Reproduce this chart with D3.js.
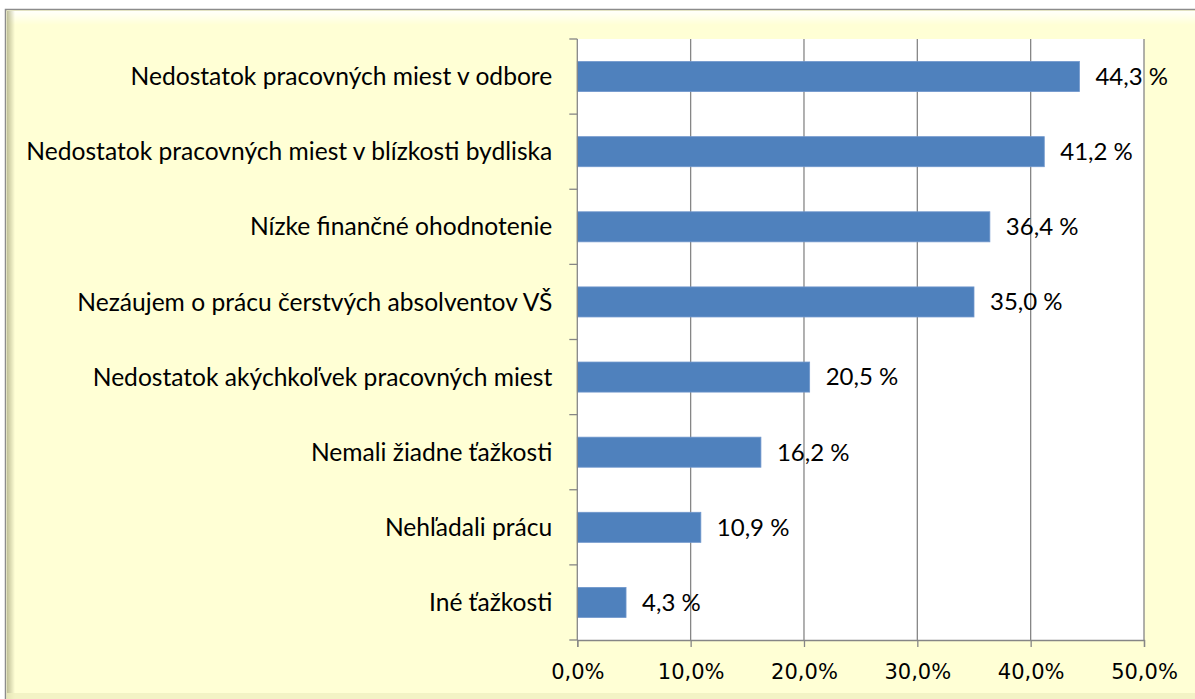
<!DOCTYPE html>
<html>
<head>
<meta charset="utf-8">
<script src="https://cdn.jsdelivr.net/npm/d3@7"></script>
<style>
  body { margin: 0; background: #fff; }
  svg { display: block; }
</style>
</head>
<body>
<svg id="chart" width="1195" height="699"></svg>
<script>
// categories top to bottom, values in percent
const categories = [
  "Nedostatok pracovných miest v odbore",
  "Nedostatok pracovných miest v blízkosti bydliska",
  "Nízke finančné ohodnotenie",
  "Nezáujem o prácu čerstvých absolventov VŠ",
  "Nedostatok akýchkoľvek pracovných miest",
  "Nemali žiadne ťažkosti",
  "Nehľadali prácu",
  "Iné ťažkosti"
];
const values = [44.3, 41.2, 36.4, 35.0, 20.5, 16.2, 10.9, 4.3];
const tickValues = [0, 10, 20, 30, 40, 50];

const svg = d3.select("#chart");
const plotLeft = 577.3, plotRight = 1144, plotTop = 39, plotBottom = 640;

// frame with bevel look
const defs = svg.append("defs");
const gTop = defs.append("linearGradient").attr("id", "topHi").attr("x1", 0).attr("y1", 0).attr("x2", 0).attr("y2", 1);
gTop.append("stop").attr("offset", 0).attr("stop-color", "#ffffff").attr("stop-opacity", 0.9);
gTop.append("stop").attr("offset", 1).attr("stop-color", "#ffffff").attr("stop-opacity", 0);
const gLeft = defs.append("linearGradient").attr("id", "leftSh").attr("x1", 0).attr("y1", 0).attr("x2", 1).attr("y2", 0);
gLeft.append("stop").attr("offset", 0).attr("stop-color", "#b8b890").attr("stop-opacity", 0.9);
gLeft.append("stop").attr("offset", 1).attr("stop-color", "#b8b890").attr("stop-opacity", 0);

svg.append("rect")
  .attr("x", 5.5).attr("y", 9.5).attr("width", 1210).attr("height", 700)
  .attr("fill", "#ffffd5").attr("stroke", "#8c8c8c").attr("stroke-width", 1.5);
svg.append("rect").attr("x", 7).attr("y", 11).attr("width", 1200).attr("height", 14).attr("fill", "url(#topHi)");
svg.append("rect").attr("x", 7).attr("y", 11).attr("width", 8).attr("height", 690).attr("fill", "url(#leftSh)");
svg.append("rect").attr("x", 7).attr("y", 693).attr("width", 1200).attr("height", 6).attr("fill", "#f0f0c0").attr("opacity", 0.8);

const x = d3.scaleLinear().domain([0, 50]).range([plotLeft, plotRight]);
const y = d3.scaleBand().domain(categories).range([plotTop, plotBottom]).paddingInner(0.6).paddingOuter(0.3);

// plot area
svg.append("rect")
  .attr("x", plotLeft).attr("y", plotTop).attr("width", plotRight - plotLeft).attr("height", plotBottom - plotTop)
  .attr("fill", "#ffffff");

// gridlines
svg.append("g")
  .selectAll("line")
  .data(tickValues.slice(1))
  .enter()
  .append("line")
  .attr("x1", d => x(d)).attr("x2", d => x(d))
  .attr("y1", plotTop).attr("y2", plotBottom)
  .attr("stroke", "#868686").attr("stroke-width", 1.3);

// bars
svg.append("g")
  .selectAll("rect")
  .data(values)
  .enter()
  .append("rect")
  .attr("x", plotLeft)
  .attr("y", (d, i) => y(categories[i]))
  .attr("width", d => x(d) - plotLeft)
  .attr("height", y.bandwidth())
  .attr("fill", "#4f81bd")
  .attr("stroke", "#6f96cc").attr("stroke-width", 0.8);

// value labels
svg.append("g")
  .selectAll("text")
  .data(values)
  .enter()
  .append("text")
  .attr("x", d => x(d) + 16)
  .attr("y", (d, i) => y(categories[i]) + y.bandwidth() / 2)
  .attr("dy", "0.35em")
  .style("font-family", "Lato, 'Open Sans', sans-serif")
  .style("font-size", "24px")
  .attr("fill", "#000")
  .text(d => d3.format(".1f")(d).replace(".", ",") + " %");

// y axis with ticks between categories
const step = (plotBottom - plotTop) / categories.length;
const yAxis = svg.append("g");
yAxis.append("line")
  .attr("x1", plotLeft).attr("x2", plotLeft).attr("y1", plotTop).attr("y2", plotBottom)
  .attr("stroke", "#868686").attr("stroke-width", 1.3);
yAxis.selectAll("line.tick")
  .data(d3.range(categories.length + 1))
  .enter()
  .append("line")
  .attr("class", "tick")
  .attr("x1", plotLeft - 8).attr("x2", plotLeft)
  .attr("y1", i => plotTop + i * step).attr("y2", i => plotTop + i * step)
  .attr("stroke", "#868686").attr("stroke-width", 1.3);
yAxis.selectAll("text")
  .data(categories)
  .enter()
  .append("text")
  .attr("x", plotLeft - 25)
  .attr("y", d => y(d) + y.bandwidth() / 2)
  .attr("dy", "0.35em")
  .attr("text-anchor", "end")
  .style("font-family", "Lato, 'Open Sans', sans-serif")
  .style("font-size", "24.6px")
  .attr("fill", "#000")
  .text(d => d);

// x axis
const xAxis = svg.append("g")
  .attr("transform", `translate(0,${plotBottom})`)
  .call(d3.axisBottom(x)
    .tickValues(tickValues)
    .tickSize(7)
    .tickPadding(17)
    .tickFormat(d => d3.format(".1f")(d).replace(".", ",") + "%"));
xAxis.select(".domain").attr("stroke", "#868686").attr("stroke-width", 1.3);
xAxis.selectAll(".tick line").attr("stroke", "#868686").attr("stroke-width", 1.3);
xAxis.selectAll("text")
  .style("font-family", "'DejaVu Sans', sans-serif")
  .style("font-size", "21px")
  .attr("fill", "#000");
</script>
</body>
</html>
